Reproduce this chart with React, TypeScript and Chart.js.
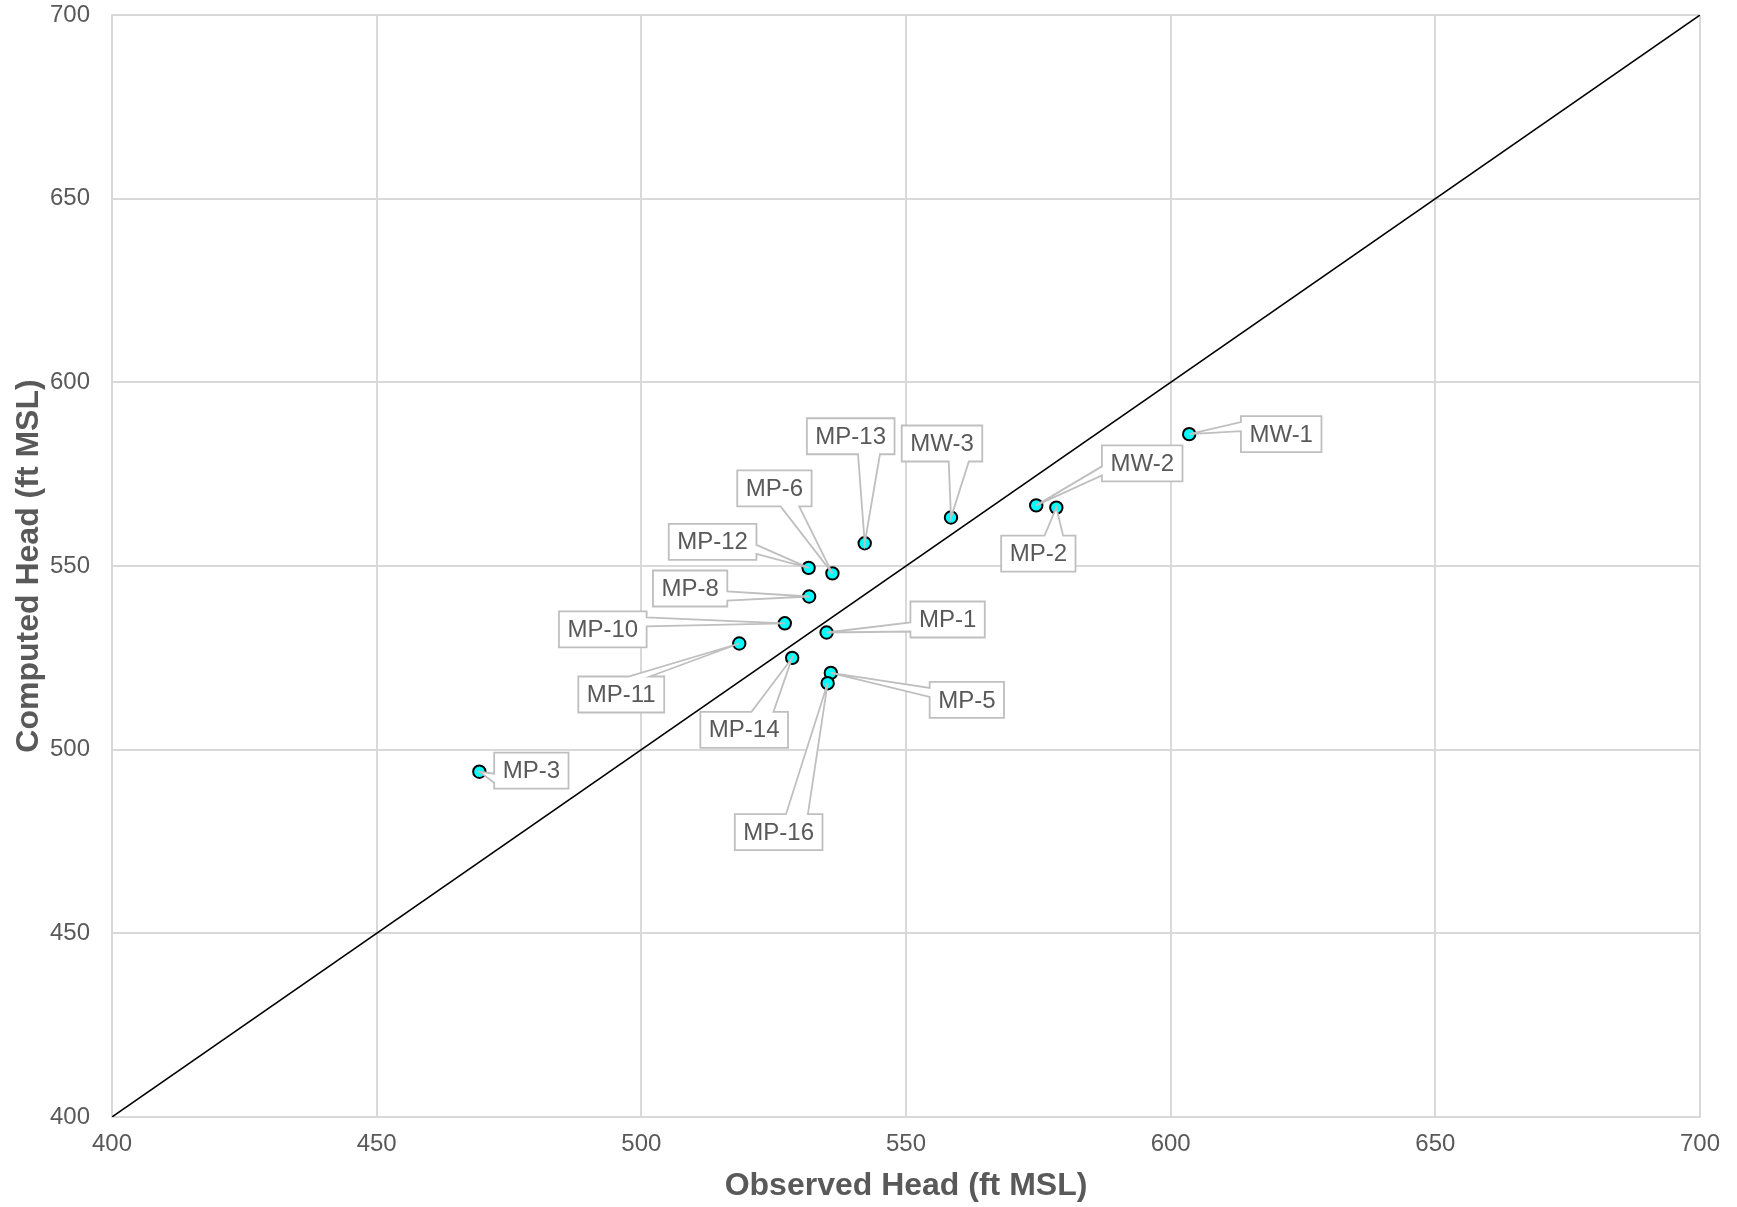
import React, { useEffect, useRef } from "react";
import { Chart, registerables } from "chart.js";

Chart.register(...registerables);

// ---- Data ----
const wellNames = ["MW-1", "MW-2", "MP-2", "MW-3", "MP-13", "MP-6", "MP-12", "MP-8", "MP-10", "MP-1", "MP-11", "MP-14", "MP-5", "MP-16", "MP-3"];
const observedHead = [603.5, 574.6, 578.4, 558.5, 542.2, 536.1, 531.6, 531.7, 527.1, 535.0, 518.5, 528.5, 535.8, 535.2, 469.4];
const computedHead = [585.9, 566.5, 565.9, 563.2, 556.2, 548.0, 549.5, 541.7, 534.4, 531.9, 528.9, 525.0, 520.9, 518.1, 494.0];
const oneToOneLine = [400, 700];
const axisMin = 400;
const axisMax = 700;
const tickStep = 50;
const xTitle = "Observed Head (ft MSL)";
const yTitle = "Computed Head (ft MSL)";

// label box center offsets from the point (pixels), layout only
const labelOffsetX = [92, 106, -18, -9, -14, -58, -96, -119, -182, 121, -118, -48, 136, -49, 52];
const labelOffsetY = [0, -42, 46, -74, -107, -85, -26, -8, 6, -13, 51, 72, 27, 149, -1];

const FONT = "'Liberation Sans', Arial, Helvetica, sans-serif";
const TEXT_COLOR = "#595959";
const GRID_COLOR = "#d9d9d9";

function calloutPath(ctx: CanvasRenderingContext2D, l: number, t: number, w: number, h: number, tx: number, ty: number) {
  const r = l + w, b = t + h, hc = l + w / 2, vc = t + h / 2;
  const dxPos = tx - hc, dyPos = ty - vc;
  const dq = (dxPos * h) / w;
  const dz = Math.abs(dyPos) - Math.abs(dq);
  const xg1 = dxPos > 0 ? 7 : 2, xg2 = dxPos > 0 ? 10 : 5;
  const yg1 = dyPos > 0 ? 7 : 2, yg2 = dyPos > 0 ? 10 : 5;
  const x1 = l + (w * xg1) / 12, x2 = l + (w * xg2) / 12;
  const y1 = t + (h * yg1) / 12, y2 = t + (h * yg2) / 12;
  let xt = x1, yt = t, xr = r, yr = y1, xb = x1, yb = b, xl = l, yl = y1;
  if (dz > 0) {
    if (dyPos < 0) { xt = tx; yt = ty; } else { xb = tx; yb = ty; }
  } else {
    if (dxPos < 0) { xl = tx; yl = ty; } else { xr = tx; yr = ty; }
  }
  ctx.beginPath();
  ctx.moveTo(l, t);
  ctx.lineTo(x1, t); ctx.lineTo(xt, yt); ctx.lineTo(x2, t);
  ctx.lineTo(r, t); ctx.lineTo(r, y1); ctx.lineTo(xr, yr); ctx.lineTo(r, y2);
  ctx.lineTo(r, b); ctx.lineTo(x2, b); ctx.lineTo(xb, yb); ctx.lineTo(x1, b);
  ctx.lineTo(l, b); ctx.lineTo(l, y2); ctx.lineTo(xl, yl); ctx.lineTo(l, y1);
  ctx.closePath();
}

const calloutPlugin = {
  id: "calloutLabels",
  afterDatasetsDraw(chart: any) {
    const meta = chart.getDatasetMeta(0);
    const ctx: CanvasRenderingContext2D = chart.ctx;
    ctx.save();
    ctx.font = `24px ${FONT}`;
    meta.data.forEach((pt: any, i: number) => {
      const px = pt.x, py = pt.y;
      const text = wellNames[i];
      const tw = ctx.measureText(text).width;
      const w = tw + 17, h = 36;
      const cx = px + labelOffsetX[i], cy = py + labelOffsetY[i];
      const l = cx - w / 2, t = cy - h / 2;
      calloutPath(ctx, l, t, w, h, px, py);
      ctx.fillStyle = "#ffffff";
      ctx.fill();
      ctx.strokeStyle = "#bfbfbf";
      ctx.lineWidth = 1.8;
      ctx.lineJoin = "miter";
      ctx.stroke();
      ctx.fillStyle = TEXT_COLOR;
      ctx.textAlign = "center";
      ctx.textBaseline = "middle";
      ctx.fillText(text, cx, cy + 1);
    });
    ctx.restore();
  },
};

export default function App() {
  const canvasRef = useRef<HTMLCanvasElement | null>(null);

  useEffect(() => {
    document.body.style.margin = "0";
    const canvas = canvasRef.current;
    if (!canvas) return;
    const chart = new Chart(canvas, {
      type: "scatter",
      data: {
        datasets: [
          {
            type: "scatter",
            label: "Heads",
            data: observedHead.map((x, i) => ({ x, y: computedHead[i] })),
            backgroundColor: "#00ffff",
            borderColor: "#000000",
            borderWidth: 2,
            pointRadius: 6.2,
          },
          {
            type: "line",
            label: "1:1",
            data: oneToOneLine.map((v) => ({ x: v, y: v })),
            borderColor: "#000000",
            borderWidth: 1.5,
            pointRadius: 0,
            fill: false,
          },
        ],
      },
      options: {
        responsive: false,
        animation: false,
        devicePixelRatio: 1,
        layout: { padding: { top: 15, right: 37, left: 0, bottom: 0 } },
        plugins: {
          legend: { display: false },
          tooltip: { enabled: false },
        },
        scales: {
          x: {
            type: "linear",
            min: axisMin,
            max: axisMax,
            afterFit: (s: any) => { s.height = 90; s.paddingLeft = 0; s.paddingRight = 0; },
            ticks: { stepSize: tickStep, color: TEXT_COLOR, font: { family: FONT, size: 24 }, padding: 13, maxRotation: 0 },
            grid: { color: GRID_COLOR, lineWidth: 2, drawTicks: false },
            border: { color: GRID_COLOR, width: 2 },
            title: { display: true, text: xTitle, color: TEXT_COLOR, font: { family: FONT, size: 32, weight: "bold" }, padding: { top: 0, bottom: 2 } },
          },
          y: {
            type: "linear",
            min: axisMin,
            max: axisMax,
            afterFit: (s: any) => { s.width = 112; s.paddingTop = 0; s.paddingBottom = 0; },
            ticks: { stepSize: tickStep, color: TEXT_COLOR, font: { family: FONT, size: 24 }, padding: 22 },
            grid: { color: GRID_COLOR, lineWidth: 2, drawTicks: false },
            border: { color: GRID_COLOR, width: 2 },
            title: { display: true, text: yTitle, color: TEXT_COLOR, font: { family: FONT, size: 32, weight: "bold" }, padding: { top: 10, bottom: 0 } },
          },
        },
      },
      plugins: [calloutPlugin],
    } as any);
    return () => chart.destroy();
  }, []);

  return (
    <div style={{ width: 1737, height: 1207 }}>
      <canvas ref={canvasRef} width={1737} height={1207} style={{ display: "block" }} />
    </div>
  );
}
